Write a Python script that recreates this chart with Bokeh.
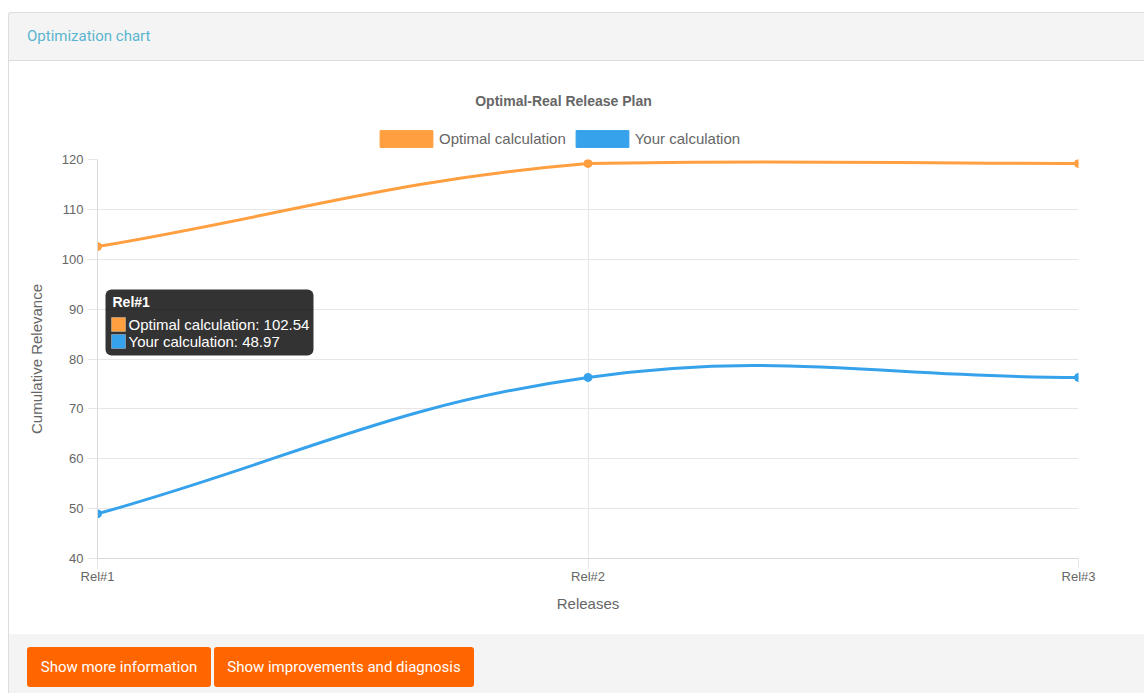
import math

from bokeh.embed import file_html
from bokeh.layouts import column, row
from bokeh.models import (BoxAnnotation, Div, FixedTicker, Label, Legend,
                          LegendItem, Range1d)
from bokeh.plotting import figure
from bokeh.resources import INLINE

# ---- data -----------------------------------------------------------------
releases = ["Rel#1", "Rel#2", "Rel#3"]
optimal = [102.54, 119.2, 119.2]
yours = [48.97, 76.3, 76.3]
y_ticks = [40, 50, 60, 70, 80, 90, 100, 110, 120]
series_names = ["Optimal calculation", "Your calculation"]
series_colors = ["#ff9f40", "#36a2eb"]
chart_title = "Optimal-Real Release Plan"
hover_index = 0

FONT = "Liberation Sans"
TEXT = "#666666"
GRID = "#e6e6e6"

# ---- geometry -------------------------------------------------------------
FIG_W = 1135
HEAD_H = 88                      # strip holding the chart title and legend
FIG_H = 485
B_LEFT, B_RIGHT, B_TOP, B_BOTTOM = 88, 66, 10, 76
FRAME_W = FIG_W - B_LEFT - B_RIGHT
FRAME_H = FIG_H - B_TOP - B_BOTTOM
X0, X1 = 0, len(releases) - 1
Y0, Y1 = y_ticks[0], y_ticks[-1]
SX = FRAME_W / (X1 - X0)
SY = FRAME_H / (Y1 - Y0)

# ---- title / legend strip (its frame lines up with the chart's frame) -----
head = figure(width=FIG_W, height=HEAD_H, x_range=Range1d(0, 1),
              y_range=Range1d(0, 1), x_axis_type=None, y_axis_type=None,
              output_backend="svg", toolbar_location=None, title=None,
              min_border_top=0, min_border_bottom=0,
              outline_line_color=None, background_fill_color="white",
              border_fill_color="white", margin=0)
head.xgrid.visible = False
head.ygrid.visible = False
head.add_layout(Label(x=466, y=49, x_units="screen", y_units="screen",
                      text=chart_title, text_font=FONT, text_font_size="14px",
                      text_font_style="bold", text_color=TEXT,
                      text_align="center", text_baseline="middle"))

nan = float("nan")
legend_items = []
for name, color in zip(series_names, series_colors):
    swatch = head.quad(left=[nan], right=[nan], top=[nan], bottom=[nan],
                       fill_color=color, line_color=color, line_width=1)
    legend_items.append(LegendItem(label=name, renderers=[swatch]))
# area glyphs are drawn inset by 10% of the glyph box, hence the larger box
legend = Legend(items=legend_items, orientation="horizontal", location=(276, 0),
                glyph_width=66, glyph_height=21, label_height=21, label_standoff=0,
                spacing=3, padding=0, margin=0, border_line_color=None,
                background_fill_alpha=0, label_text_font=FONT,
                label_text_font_size="15px", label_text_color=TEXT)
head.add_layout(legend, "center")

# ---- main chart -----------------------------------------------------------
p = figure(width=FIG_W, height=FIG_H, x_range=Range1d(X0, X1), y_range=Range1d(Y0, Y1),
           output_backend="svg", toolbar_location=None, title=None,
           min_border_left=B_LEFT, min_border_right=B_RIGHT,
           min_border_top=B_TOP, min_border_bottom=B_BOTTOM,
           outline_line_color=None, background_fill_color="white",
           border_fill_color="white", margin=0)

p.xaxis.ticker = FixedTicker(ticks=list(range(len(releases))))
p.xaxis.major_label_overrides = {i: r for i, r in enumerate(releases)}
p.yaxis.ticker = FixedTicker(ticks=y_ticks)
for ax in (p.xaxis[0], p.yaxis[0]):
    ax.axis_line_color = "#d9d9d9"
    ax.major_tick_line_color = GRID
    ax.major_tick_out = 10
    ax.major_tick_in = 0
    ax.minor_tick_line_color = None
    ax.major_label_text_font = FONT
    ax.major_label_text_font_size = "13px"
    ax.major_label_text_color = TEXT
    ax.axis_label_text_font = FONT
    ax.axis_label_text_font_size = "15px"
    ax.axis_label_text_color = TEXT
    ax.axis_label_text_font_style = "normal"
p.xaxis.axis_label = "Releases"
p.xaxis.major_label_standoff = 0
p.xaxis.axis_label_standoff = 8
p.yaxis.axis_label = "Cumulative Relevance"
p.yaxis.major_label_standoff = 4
p.yaxis.axis_label_standoff = 14

p.xgrid.ticker = FixedTicker(ticks=list(range(1, len(releases))))
p.ygrid.ticker = FixedTicker(ticks=y_ticks[1:-1])
p.xgrid.grid_line_color = GRID
p.ygrid.grid_line_color = GRID


# smooth lines: cubic bezier, tension 0.4, control points kept inside the frame
def spline_segments(xs, ys, tension=0.4):
    px = [(x - X0) * SX for x in xs]
    py = [(Y1 - y) * SY for y in ys]
    n = len(px)
    prev_cp, next_cp = [], []
    for i in range(n):
        a = (px[max(i - 1, 0)], py[max(i - 1, 0)])
        b = (px[i], py[i])
        c = (px[min(i + 1, n - 1)], py[min(i + 1, n - 1)])
        d01 = math.hypot(b[0] - a[0], b[1] - a[1])
        d12 = math.hypot(c[0] - b[0], c[1] - b[1])
        tot = d01 + d12
        s01 = d01 / tot if tot else 0
        s12 = d12 / tot if tot else 0
        fa, fb = tension * s01, tension * s12
        pc = [b[0] - fa * (c[0] - a[0]), b[1] - fa * (c[1] - a[1])]
        nc = [b[0] + fb * (c[0] - a[0]), b[1] + fb * (c[1] - a[1])]
        for cp in (pc, nc):
            cp[0] = min(max(cp[0], 0), FRAME_W)
            cp[1] = min(max(cp[1], 0), FRAME_H)
        prev_cp.append(pc)
        next_cp.append(nc)

    def to_data(pt):
        return X0 + pt[0] / SX, Y1 - pt[1] / SY

    seg = dict(x0=[], y0=[], x1=[], y1=[], cx0=[], cy0=[], cx1=[], cy1=[])
    for i in range(n - 1):
        seg["x0"].append(xs[i]); seg["y0"].append(ys[i])
        seg["x1"].append(xs[i + 1]); seg["y1"].append(ys[i + 1])
        c0 = to_data(next_cp[i]); c1 = to_data(prev_cp[i + 1])
        seg["cx0"].append(c0[0]); seg["cy0"].append(c0[1])
        seg["cx1"].append(c1[0]); seg["cy1"].append(c1[1])
    return seg


xs = list(range(len(releases)))
for vals, color in zip([optimal, yours], series_colors):
    s = spline_segments(xs, vals)
    p.bezier(x0=s["x0"], y0=s["y0"], x1=s["x1"], y1=s["y1"],
             cx0=s["cx0"], cy0=s["cy0"], cx1=s["cx1"], cy1=s["cy1"],
             line_color=color, line_width=3)
    p.scatter(xs, vals, size=8, fill_color=color, line_color=color)


# ---- hover tooltip at the first release -----------------------------------
def dx(px):
    return px / SX


def dy(px):
    return px / SY


anchor_x = xs[hover_index]
box_left = anchor_x + dx(8)
box_top = Y1 - dy(130)
p.add_layout(BoxAnnotation(left=box_left, right=box_left + dx(208), top=box_top,
                           bottom=box_top - dy(66), fill_color="black",
                           fill_alpha=0.8, line_color=None, border_radius=6))
p.add_layout(Label(x=box_left + dx(7), y=box_top - dy(12),
                   text=releases[hover_index], text_font=FONT,
                   text_font_size="14px", text_font_style="bold",
                   text_color="white", text_baseline="middle"))
for k, (name, vals, color) in enumerate(zip(series_names, [optimal, yours], series_colors)):
    cy = box_top - dy(35 + 17 * k)
    p.add_layout(BoxAnnotation(left=box_left + dx(6), right=box_left + dx(20),
                               top=cy + dy(7), bottom=cy - dy(7),
                               fill_color=color, fill_alpha=1,
                               line_color="white", line_width=1))
    p.add_layout(Label(x=box_left + dx(23), y=cy,
                       text=f"{name}: {vals[hover_index]}",
                       text_font=FONT, text_font_size="15px",
                       text_color="white", text_baseline="middle"))

# ---- panel chrome ---------------------------------------------------------
header = Div(
    text='<div style="box-sizing:border-box;width:1136px;height:49px;'
         'background:#f4f4f4;border:1px solid #dddddd;border-right:none;'
         'border-radius:3px 0 0 0;padding-left:18px;line-height:47px;'
         'font-family:Roboto;font-size:15px;color:#5ab4cf;">Optimization chart</div>',
    width=1136, height=49, margin=(12, 0, 0, 8))

side = Div(text='<div style="box-sizing:border-box;width:9px;height:573px;'
                'border-right:1px solid #dddddd;"></div>',
           width=9, height=HEAD_H + FIG_H, margin=0)

btn = ('display:inline-block;height:40px;line-height:40px;background:#ff6600;'
       'color:#ffffff;border-radius:3px;text-align:center;font-family:Roboto;'
       'font-size:15px;vertical-align:top;')
footer = Div(
    text='<div style="box-sizing:border-box;width:1136px;height:59px;'
         'background:#f4f4f4;border-left:1px solid #dddddd;padding:13px 0 0 18px;'
         'white-space:nowrap;">'
         f'<span style="{btn}width:184px;">Show more information</span>'
         f'<span style="{btn}width:260px;margin-left:3px;">Show improvements and diagnosis</span>'
         '</div>',
    width=1136, height=59, margin=(0, 0, 0, 8))

charts = column(head, p, margin=0, spacing=0)
layout = column(header, row(side, charts, margin=0, spacing=0), footer,
                margin=0, spacing=0)

open("out.html", "w").write(file_html(layout, INLINE))
